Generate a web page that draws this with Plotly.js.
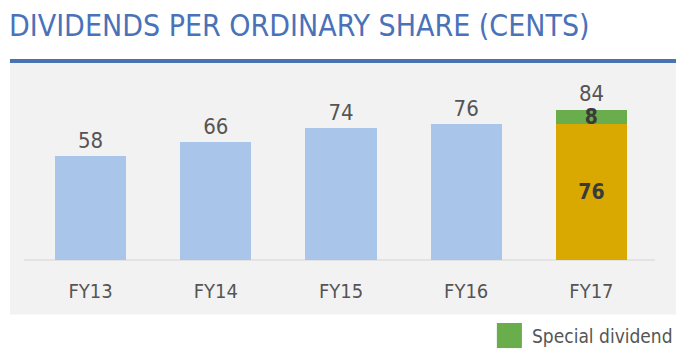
<!DOCTYPE html>
<html><head><meta charset="utf-8">
<script src="https://cdn.plot.ly/plotly-3.0.1.min.js"></script>
<style>html,body{margin:0;padding:0;background:#fff}#chart{width:690px;height:354px}</style>
</head><body><div id="chart"></div>
<script>
const categories = ["FY13","FY14","FY15","FY16","FY17"];
const ordinary = [58, 66, 74, 76, 76];
const special = [null, null, null, null, 8];
const totals = [58, 66, 74, 76, 84];
const titleText = "DIVIDENDS PER ORDINARY SHARE (CENTS)";
const legendText = "Special dividend";

const FONT = '"DejaVu Sans Condensed", "Liberation Sans", sans-serif';
const BLUE = '#a9c5e9', GOLD = '#d9a902', GREEN = '#6aad4c', GREYTXT = '#555555';

const lastIdx = categories.length - 1;
const prevCats = categories.slice(0, lastIdx);
const prevVals = ordinary.slice(0, lastIdx);

const traces = [
  { type: 'bar', x: prevCats, y: prevVals, marker: {color: BLUE},
    text: prevVals.map(String), textposition: 'outside', textangle: 0,
    textfont: {family: FONT, size: 22, color: GREYTXT}, cliponaxis: false,
    showlegend: false },
  { type: 'bar', x: [categories[lastIdx]], y: [ordinary[lastIdx]], marker: {color: GOLD},
    text: ['<b>' + ordinary[lastIdx] + '</b>'], textposition: 'inside', insidetextanchor: 'middle', textangle: 0,
    textfont: {family: FONT, size: 21, color: '#3a3a3a'}, constraintext: 'none',
    showlegend: false },
  { type: 'bar', x: [categories[lastIdx]], y: [special[lastIdx]], marker: {color: GREEN},
    name: legendText,
    text: ['<b>' + special[lastIdx] + '</b>'], textposition: 'inside', insidetextanchor: 'middle', textangle: 0,
    textfont: {family: FONT, size: 21, color: '#3a3a3a'}, constraintext: 'none',
    showlegend: false }
];

const layout = {
  width: 690, height: 354,
  margin: {l: 28, r: 36, t: 81, b: 94},
  paper_bgcolor: '#ffffff', plot_bgcolor: 'rgba(0,0,0,0)',
  barmode: 'stack', bargap: 0.43, showlegend: false,
  font: {family: FONT, color: GREYTXT},
  title: {text: titleText, xref: 'container', yref: 'container', x: 0.013, xanchor: 'left',
          y: 0.929, yanchor: 'middle', font: {family: FONT, size: 30, color: '#4a72b9'}},
  xaxis: {type: 'category', range: [-0.5, 4.5], showgrid: false, zeroline: false,
          showline: false, ticks: '',
          ticklabelstandoff: 17, tickfont: {family: FONT, size: 20, color: GREYTXT}},
  yaxis: {range: [0, 100], visible: false, showgrid: false, zeroline: false},
  shapes: [
    {type: 'rect', xref: 'paper', yref: 'paper', x0: -0.0288, x1: 1.0351, y0: -0.3045, y1: 1.1006,
     fillcolor: '#f2f2f2', line: {width: 0}, layer: 'below'},
    {type: 'line', xref: 'paper', yref: 'paper', x0: -0.0288, x1: 1.0351, y0: 1.1117, y1: 1.1117,
     line: {color: '#4a72b0', width: 4}, layer: 'below'},
    {type: 'line', xref: 'paper', yref: 'paper', x0: -0.0064, x1: 1.0016, y0: 0, y1: 0,
     line: {color: '#d4d4d4', width: 1}, layer: 'below'},
    {type: 'rect', xref: 'paper', yref: 'paper', x0: 0.749, x1: 0.789, y0: -0.492, y1: -0.352,
     fillcolor: GREEN, line: {width: 0}}
  ],
  annotations: [
    {xref: 'x', yref: 'y', x: categories[lastIdx], y: totals[lastIdx], text: String(totals[lastIdx]),
     showarrow: false, yanchor: 'bottom', yshift: 2, font: {family: FONT, size: 22, color: GREYTXT}},
    {xref: 'paper', yref: 'paper', x: 0.802, y: -0.422, xanchor: 'left', yanchor: 'middle',
     text: legendText, showarrow: false, font: {family: FONT, size: 19, color: GREYTXT}}
  ]
};

Plotly.newPlot('chart', traces, layout, {displayModeBar: false, staticPlot: true});
</script></body></html>
